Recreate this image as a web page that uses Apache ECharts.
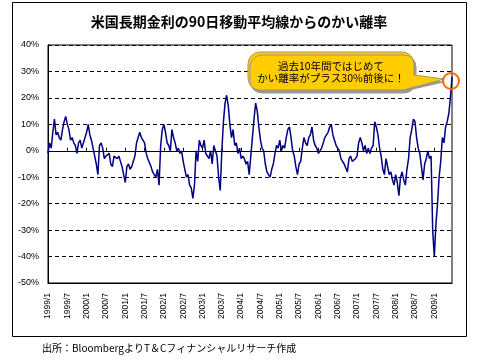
<!DOCTYPE html>
<html><head><meta charset="utf-8">
<script src="https://cdn.jsdelivr.net/npm/echarts@6/dist/echarts.min.js"></script>
<style>html,body{margin:0;padding:0;background:#fff}#c{width:478px;height:361px}</style>
</head><body><div id="c"></div>
<script>
// Half-monthly points from 1999/1 to 2009/6 (deviation from 90-day MA, %)
const values = [
 -1,3,1,7,12,6,7,5,4,8,11,13,10,8,4,5,3,2,-1,3,4,1,3,5,
 7,10,6,4,1,-2,-5,-9,2,3,1,-3,-2,-2,-1,-5,-6,-2,-2,-3,-2,-4,-6,-9,
 -12,-6,-5,-7,-6,-6,-2,3,5,7,5,4,3,-1,-3,-3,-6,-8,-9,-10,-7,-13,2,8,
 10,7,3,2,0,8,5,3,0,1,-1,0,-4,-7,-10,-9,-13,-14,-18,-13,0,-4,4,2,
 1,4,-1,-1,-3,0,-5,2,2,-2,-10,-15,0,11,18,21,17,10,5,8,2,3,-1,1,
 -3,-2,-3,-5,-4,-9,-9,5,12,18,15,9,4,1,0,-5,-8,-9,-10,-7,-5,-1,2,1,
 4,0,2,1,5,8,9,5,0,-2,-6,-9,-5,-4,1,5,3,2,5,6,9,4,2,1,
 -1,-1,1,3,5,6,7,9,10,6,4,2,1,0,-3,-4,-5,-5,-8,-3,-2,-4,-4,-3,
 -2,3,5,3,0,2,-1,1,-1,1,2,11,9,6,1,-2,-7,-9,-3,-6,-9,-8,-11,-13,
 -9,-12,-17,-10,-8,-11,-13,-7,-3,5,8,12,11,5,1,-1,-6,-11,-5,-3,0,-3,-2,-30,
 -40,-28,-20,-10,-4,5,3,9,11,14,20,28
];
const years = [1999,2000,2001,2002,2003,2004,2005,2006,2007,2008,2009];
const categories = [];
years.forEach(y => {
  for (let m = 1; m <= 12; m++) {
    if (y === 2009 && m > 6) break;
    categories.push(y + '/' + m + '/1', y + '/' + m + '/16');
  }
});
const tickLabels = ['1999/1','1999/7','2000/1','2000/7','2001/1','2001/7','2002/1','2002/7',
  '2003/1','2003/7','2004/1','2004/7','2005/1','2005/7','2006/1','2006/7','2007/1','2007/7',
  '2008/1','2008/7','2009/1'];
const yMin = -50, yMax = 40, yStep = 10;

function isTick(v) {
  const p = v.split('/');
  return p[2] === '1' && tickLabels.indexOf(p[0] + '/' + p[1]) >= 0;
}

const chart = echarts.init(document.getElementById('c'), null, {renderer: 'canvas'});
const jp = '"Noto Sans CJK JP", sans-serif';
chart.setOption({
  animation: false,
  backgroundColor: '#fff',
  title: {
    text: '米国長期金利の90日移動平均線からのかい離率',
    left: 'center', top: 10,
    textStyle: {fontSize: 14, fontWeight: 'bold', color: '#000', fontFamily: jp}
  },
  grid: {left: 48, right: 26, top: 45, bottom: 78, show: true, borderColor: '#000', borderWidth: 1},
  xAxis: [{
    type: 'category', data: categories, boundaryGap: false,
    axisLine: {onZero: false, lineStyle: {color: '#000', width: 1}},
    axisTick: {show: false},
    axisLabel: {
      interval: (i, v) => isTick(v),
      formatter: v => v.split('/').slice(0, 2).join('/'),
      rotate: 90, fontSize: 8.5, color: '#000', margin: 10, fontFamily: 'Liberation Sans'
    },
    splitLine: {show: false}
  }, {
    type: 'category', data: categories, boundaryGap: false, position: 'bottom',
    axisLine: {onZero: true, lineStyle: {color: '#000', width: 1}},
    axisTick: {show: true, inside: true, length: 3, interval: (i, v) => isTick(v), lineStyle: {color: '#000'}},
    axisLabel: {show: false},
    splitLine: {show: false}
  }],
  yAxis: {
    type: 'value', min: yMin, max: yMax, interval: yStep,
    axisLine: {show: true, lineStyle: {color: '#000', width: 1}},
    axisTick: {show: false},
    axisLabel: {formatter: '{value}%', fontSize: 9, color: '#000', margin: 9, fontFamily: 'Liberation Sans'},
    splitLine: {show: true, lineStyle: {color: '#000', type: [4, 3], width: 1}}
  },
  series: [{
    type: 'line', data: values, xAxisIndex: 0, yAxisIndex: 0,
    showSymbol: false, symbol: 'none',
    lineStyle: {color: '#000080', width: 1.5}
  }],
  graphic: [
    {type: 'rect', shape: {x: 12.5, y: 2.5, width: 454, height: 334},
     style: {fill: 'none', stroke: '#000', lineWidth: 1}, silent: true},
    {type: 'text', left: 42, top: 343,
     style: {text: '出所：BloombergよりT＆Cフィナンシャルリサーチ作成', fontSize: 10, fill: '#000', fontFamily: jp}},
    {type: 'polygon', z: 100, shape: {points: [[400, 73], [444, 79], [400, 89]]},
     style: {fill: '#FFCC00', shadowColor: '#999', shadowOffsetX: 2, shadowOffsetY: 3}},
    {type: 'rect', z: 101, shape: {x: 248, y: 52, width: 166, height: 38, r: 12},
     style: {fill: '#FFCC00', stroke: '#A89A5A', lineWidth: 1, shadowColor: '#999', shadowOffsetX: 2, shadowOffsetY: 3}},
    {type: 'polygon', z: 102, shape: {points: [[404, 74], [444, 79], [404, 89]]},
     style: {fill: '#FFCC00'}},
    {type: 'polyline', z: 103, shape: {points: [[414, 75], [444, 79], [407, 89.5]]},
     style: {fill: 'none', stroke: '#A89A5A', lineWidth: 1}},
    {type: 'text', z: 104, x: 331, y: 60,
     style: {text: '過去10年間ではじめて\nかい離率がプラス30%前後に！', fontSize: 10.5, lineHeight: 12,
             align: 'center', verticalAlign: 'top', fill: '#000', fontFamily: jp}},
    {type: 'circle', z: 105, shape: {cx: 451, cy: 81, r: 8},
     style: {fill: 'none', stroke: '#FF6600', lineWidth: 2}}
  ]
});
</script>
</body></html>
